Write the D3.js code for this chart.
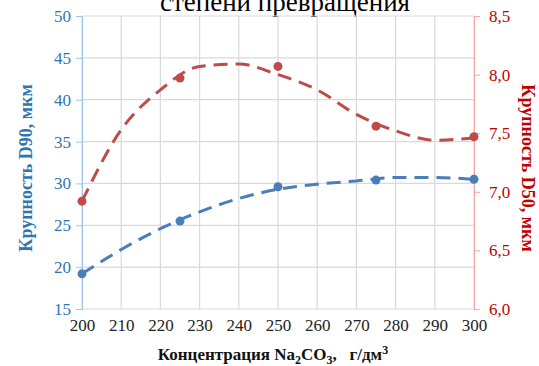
<!DOCTYPE html>
<html>
<head>
<meta charset="utf-8">
<script src="https://cdn.jsdelivr.net/npm/d3@7"></script>
<style>
  body { margin: 0; background: #fff; }
  svg { display: block; }
</style>
</head>
<body>
<div id="chart"></div>
<script>
// concentration Na2CO3, g/dm3
var conc = [200, 225, 250, 275, 300];
// measured points
var d90 = [19.2, 25.5, 29.6, 30.4, 30.5];
var d50 = [6.92, 7.97, 8.07, 7.56, 7.47];

// trend lines
var trendX = [200, 210, 220, 230, 240, 250, 260, 270, 280, 290, 300];
var trendD90 = [19.2, 22.1, 24.6, 26.6, 28.2, 29.3, 29.9, 30.3, 30.7, 30.7, 30.5];
var trendD50 = [6.92, 7.53, 7.87, 8.07, 8.09, 8.0, 7.87, 7.66, 7.52, 7.44, 7.46];

var xTicks = [200, 210, 220, 230, 240, 250, 260, 270, 280, 290, 300];
var leftTicks = [15, 20, 25, 30, 35, 40, 45, 50];
var rightTicks = [6.0, 6.5, 7.0, 7.5, 8.0, 8.5];

var W = 539, H = 366;
var margin = {top: 16, right: 65, bottom: 57, left: 82};
var width = W - margin.left - margin.right,
    height = H - margin.top - margin.bottom;

var blue = "#4a7ebb", red = "#be4b48";
var serif = "Liberation Serif, Times New Roman, serif";

var svg = d3.select("#chart").append("svg")
    .attr("width", W).attr("height", H)
    .attr("font-family", serif);

// title, mostly cut off at the top
svg.append("text")
    .attr("x", 285).attr("y", 11)
    .attr("text-anchor", "middle")
    .attr("font-size", 27)
    .attr("fill", "#000")
    .text("степени превращения");

var g = svg.append("g")
    .attr("transform", "translate(" + margin.left + "," + margin.top + ")");

var x = d3.scaleLinear().domain([200, 300]).range([0, width]);
var yL = d3.scaleLinear().domain([15, 50]).range([height, 0]);
var yR = d3.scaleLinear().domain([6, 8.5]).range([height, 0]);

// grid
g.append("g").selectAll("line").data(leftTicks).join("line")
    .attr("x1", 0).attr("x2", width)
    .attr("y1", d => yL(d)).attr("y2", d => yL(d))
    .attr("stroke", "#d9d9d9").attr("stroke-width", 1.2);
g.append("g").selectAll("line").data(xTicks).join("line")
    .attr("x1", d => x(d)).attr("x2", d => x(d))
    .attr("y1", 0).attr("y2", height)
    .attr("stroke", "#d9d9d9").attr("stroke-width", 1.2);

var fmt = d3.format(".1f");

// axes: drop d3's own sans-serif font so the serif one is inherited
function styleAxis(ax, lineColor, textColor) {
    ax.attr("font-family", null).attr("font-size", null);
    ax.select(".domain").attr("stroke", lineColor);
    ax.selectAll(".tick line").attr("stroke", lineColor);
    ax.selectAll("text")
        .attr("fill", textColor)
        .attr("font-family", serif)
        .attr("font-size", 17);
}

var axL = g.append("g")
    .call(d3.axisLeft(yL).tickValues(leftTicks).tickSize(6).tickPadding(5));
styleAxis(axL, "#9dc3e6", "#2e75b6");

var axR = g.append("g")
    .attr("transform", "translate(" + width + ",0)")
    .call(d3.axisRight(yR).tickValues(rightTicks).tickSize(6).tickPadding(9)
        .tickFormat(d => fmt(d).replace(".", ",")));
styleAxis(axR, "#f4a6a6", "#c00000");

var axB = g.append("g")
    .attr("transform", "translate(0," + height + ")")
    .call(d3.axisBottom(x).tickValues(xTicks).tickSize(0).tickPadding(10));
styleAxis(axB, "none", "#222");
axB.select(".domain").remove();

// axis titles
svg.append("text")
    .attr("transform", "translate(32,168) rotate(-90)")
    .attr("text-anchor", "middle")
    .attr("fill", "#2e75b6")
    .attr("font-size", 18).attr("font-weight", "bold")
    .text("Крупность  D90, мкм");

svg.append("text")
    .attr("transform", "translate(522,168) rotate(90)")
    .attr("text-anchor", "middle")
    .attr("fill", "#c00000")
    .attr("font-size", 18).attr("font-weight", "bold")
    .text("Крупность  D50, мкм");

var xt = svg.append("text")
    .attr("x", 273).attr("y", 360)
    .attr("text-anchor", "middle")
    .attr("fill", "#111")
    .attr("font-size", 17).attr("font-weight", "bold");
xt.append("tspan").text("Концентрация Na");
xt.append("tspan").attr("dy", 4).attr("font-size", 12).text("2");
xt.append("tspan").attr("dy", -4).text("CO");
xt.append("tspan").attr("dy", 4).attr("font-size", 12).text("3");
xt.append("tspan").attr("dy", -4).text(",\u00a0\u00a0\u00a0г/дм");
xt.append("tspan").attr("dy", -6).attr("font-size", 12).text("3");

// trend lines
var lineL = d3.line().x((d, i) => x(trendX[i])).y(d => yL(d)).curve(d3.curveMonotoneX);
var lineR = d3.line().x((d, i) => x(trendX[i])).y(d => yR(d)).curve(d3.curveMonotoneX);

g.append("path").datum(trendD50).attr("d", lineR)
    .attr("fill", "none").attr("stroke", red)
    .attr("stroke-width", 3).attr("stroke-dasharray", "14,8");
g.append("path").datum(trendD90).attr("d", lineL)
    .attr("fill", "none").attr("stroke", blue)
    .attr("stroke-width", 3).attr("stroke-dasharray", "14,8");

// points
g.append("g").selectAll("circle").data(d50).join("circle")
    .attr("cx", (d, i) => x(conc[i])).attr("cy", d => yR(d))
    .attr("r", 4.5).attr("fill", red);
g.append("g").selectAll("circle").data(d90).join("circle")
    .attr("cx", (d, i) => x(conc[i])).attr("cy", d => yL(d))
    .attr("r", 4.5).attr("fill", blue);
</script>
</body>
</html>
